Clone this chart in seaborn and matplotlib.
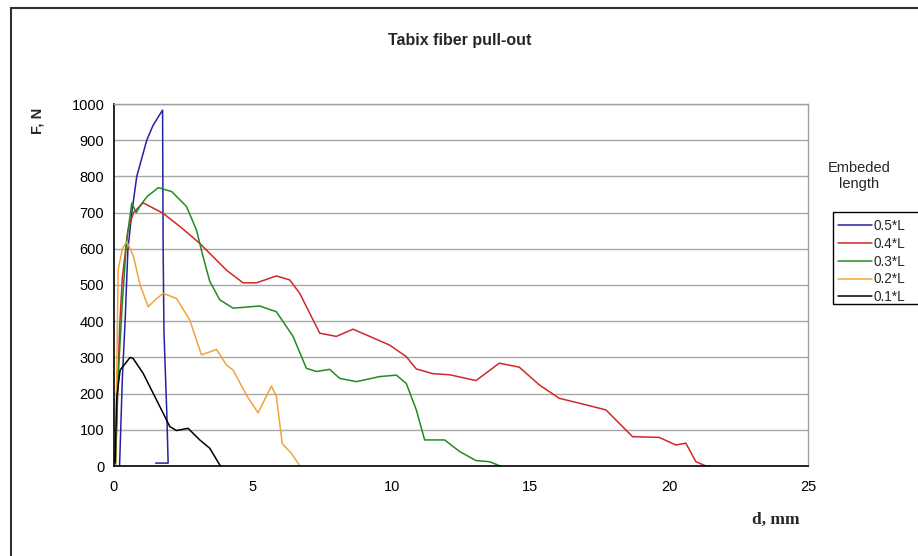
import matplotlib
matplotlib.use("Agg")
import matplotlib.pyplot as plt
import seaborn as sns
import pandas as pd
from matplotlib.patches import Rectangle

# values (d in mm, F in N)
x_05 = [0.2, 0.3, 0.4, 0.5, 0.64, 0.82, 1.0, 1.18, 1.4, 1.6, 1.75, 1.77, 1.8, 1.9, 1.95, 1.95, 1.5]
y_05 = [0, 240, 400, 597, 699, 800, 850, 900, 940, 965, 983, 600, 370, 150, 10, 8, 8]

x_04 = [0.05, 0.1, 0.2, 0.3, 0.5, 0.7, 1.05, 1.77, 2.4, 3.09, 3.57, 4.05, 4.65, 5.13, 5.85, 6.33, 6.69,
        7.41, 8.01, 8.61, 9.09, 9.93, 10.53, 10.89, 11.49, 12.09, 13.04, 13.88, 14.6, 15.32, 16.04,
        17.0, 17.72, 18.68, 19.64, 20.24, 20.6, 20.96, 21.32, 21.5]
y_04 = [0, 120, 380, 520, 650, 700, 727, 698, 660, 615, 578, 541, 506, 506, 525, 514, 477,
        367, 358, 378, 362, 334, 302, 268, 255, 252, 236, 284, 273, 224, 187,
        169, 155, 81, 79, 58, 63, 12, 0, 0]

x_03 = [0.05, 0.15, 0.3, 0.45, 0.64, 0.8, 0.95, 1.2, 1.6, 2.08, 2.61, 2.97, 3.21, 3.45, 3.81, 4.29,
        5.25, 5.85, 6.45, 6.93, 7.29, 7.77, 8.13, 8.73, 9.57, 10.17, 10.53, 10.89, 11.19, 11.91,
        12.45, 13.04, 13.52, 13.82, 13.9]
y_03 = [0, 250, 450, 620, 726, 700, 720, 745, 769, 758, 717, 652, 578, 510, 459, 436,
        442, 426, 358, 270, 261, 267, 242, 233, 247, 251, 228, 155, 72, 72,
        40, 15, 12, 3, 0]

x_02 = [0.05, 0.15, 0.3, 0.46, 0.7, 0.94, 1.23, 1.5, 1.77, 2.25, 2.73, 3.15, 3.69, 4.05, 4.29, 4.77,
        5.19, 5.67, 5.85, 6.06, 6.39, 6.67]
y_02 = [0, 541, 600, 620, 580, 500, 440, 460, 477, 463, 403, 307, 322, 279, 265, 196,
        147, 221, 192, 62, 35, 3]

x_01 = [0.04, 0.1, 0.22, 0.58, 0.69, 1.05, 1.41, 1.77, 2.01, 2.25, 2.67, 3.09, 3.45, 3.81, 3.85]
y_01 = [8, 191, 265, 300, 297, 256, 201, 146, 109, 98, 104, 72, 49, 3, 0]

labels = ["0.5*L", "0.4*L", "0.3*L", "0.2*L", "0.1*L"]
colors = ["#2424a0", "#d02828", "#238a23", "#f2a33a", "#000000"]
xs = [x_05, x_04, x_03, x_02, x_01]
ys = [y_05, y_04, y_03, y_02, y_01]

frames = []
for lab, xv, yv in zip(labels, xs, ys):
    frames.append(pd.DataFrame({"d": xv, "F": yv, "series": lab}))
df = pd.concat(frames, ignore_index=True)

sns.set_style("white")
plt.rcParams["font.family"] = ["Liberation Sans", "DejaVu Sans"]

fig = plt.figure(figsize=(9.18, 5.56), dpi=100)
ax = fig.add_axes([114 / 918, 90 / 556, 694 / 918, 362 / 556])

sns.lineplot(data=df, x="d", y="F", hue="series", hue_order=labels,
             palette=dict(zip(labels, colors)), sort=False, estimator=None,
             units="series", linewidth=1.1, ax=ax, legend=False)

ax.set_xlim(0, 25)
ax.set_ylim(0, 1000)
ax.set_xticks(range(0, 26, 5))
ax.set_yticks(range(0, 1001, 100))
ax.yaxis.grid(True, color="#a8a8a8", linewidth=1)
ax.set_axisbelow(True)
ax.tick_params(axis="both", direction="out", length=4, width=1, labelsize=10.5,
               colors="black", pad=3)
ax.tick_params(axis="x", pad=6)
ax.set_xlabel("")
ax.set_ylabel("")
for s in ["left", "bottom"]:
    ax.spines[s].set_color("black")
    ax.spines[s].set_linewidth(1.2)
for s in ["right", "top"]:
    ax.spines[s].set_color("#a0a0a0")
    ax.spines[s].set_linewidth(1)

# outer chart frame
fig.patches.append(Rectangle((11 / 918, -0.05), 1.05, 0.05 + 1 - 8 / 556,
                             transform=fig.transFigure, fill=False,
                             edgecolor="#303030", linewidth=1.5))

fig.text(460 / 918, 1 - 41 / 556, "Tabix fiber pull-out", ha="center", va="center",
         fontsize=11.5, fontweight="bold")
fig.text(37 / 918, 1 - 121 / 556, "F, N", ha="center", va="center", rotation=90,
         fontsize=10.5, fontweight="bold")
fig.text(776 / 918, 1 - 520 / 556, "d, mm", ha="center", va="center",
         fontsize=12.5, fontweight="bold", family=["Liberation Serif", "DejaVu Serif"])
fig.text(859 / 918, 1 - 176 / 556, "Embeded\nlength", ha="center", va="center",
         fontsize=10.5, linespacing=1.2)

# legend box runs off the right edge, like the reference
fig.patches.append(Rectangle((833 / 918, 1 - 304 / 556), 0.2, 92 / 556,
                             transform=fig.transFigure, fill=False,
                             edgecolor="black", linewidth=1))
handles = [plt.Line2D([], [], color=c, linewidth=1.1) for c in colors]
leg = fig.legend(handles, labels, loc="upper left", bbox_to_anchor=(838 / 918, 1 - 219 / 556),
                 frameon=False, fontsize=9.8,
                 handlelength=2.5, handletextpad=0.1, labelspacing=0.28,
                 borderpad=0, borderaxespad=0)

fig.savefig("out.png", dpi=100)
